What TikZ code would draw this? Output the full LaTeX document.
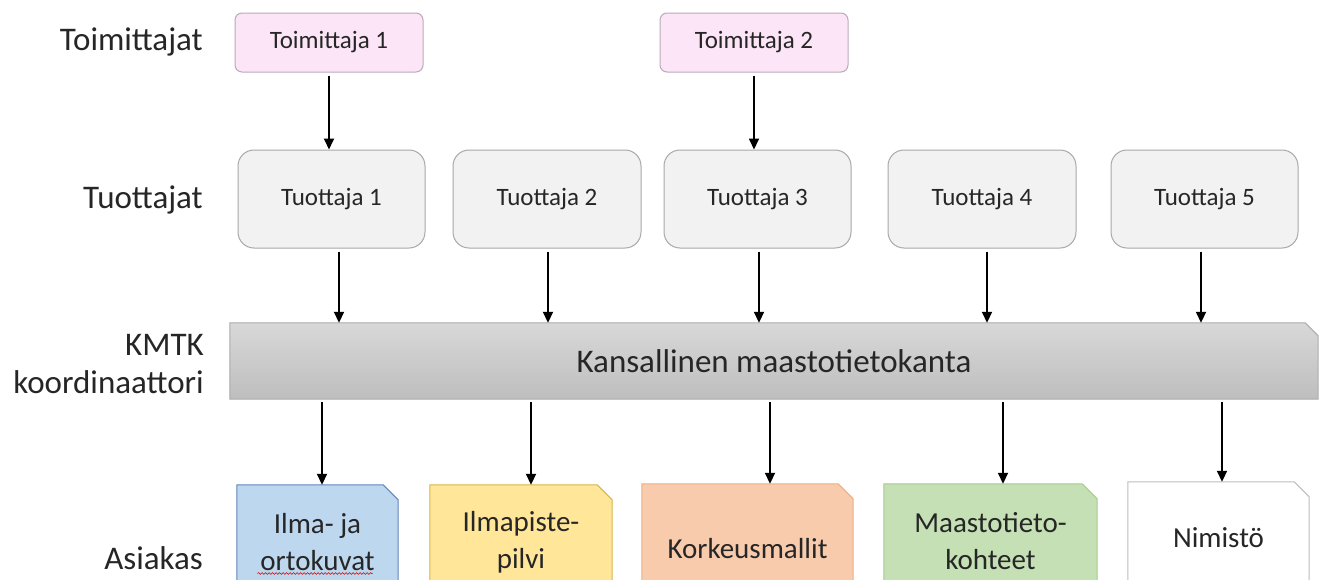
\documentclass[tikz,border=0pt]{standalone}
\usepackage{fontspec}
\setmainfont{Carlito}
\usetikzlibrary{arrows.meta,backgrounds,decorations.pathmorphing}
\definecolor{txt}{HTML}{262626}
\definecolor{supfill}{HTML}{FBE5F6}
\definecolor{supdraw}{HTML}{BBAAB8}
\definecolor{prodfill}{HTML}{F2F2F2}
\definecolor{proddraw}{HTML}{A8A8A8}
\definecolor{bandtop}{HTML}{D8D8D8}
\definecolor{bandbot}{HTML}{BEBEBE}
\definecolor{banddraw}{HTML}{ABABAB}
\definecolor{bluef}{HTML}{BDD7EE}
\definecolor{blued}{HTML}{5F87BD}
\definecolor{yelf}{HTML}{FFE699}
\definecolor{yeld}{HTML}{D8B54A}
\definecolor{oraf}{HTML}{F8CBAD}
\definecolor{orad}{HTML}{F0AE85}
\definecolor{grnf}{HTML}{C5E0B4}
\definecolor{grnd}{HTML}{A6CC8C}
\definecolor{whif}{HTML}{FFFFFF}
\definecolor{whid}{HTML}{BDBDBD}
\tikzset{
  supbox/.style={draw=supdraw, fill=supfill, rounded corners=7pt, minimum width=188pt,
    minimum height=59pt, inner sep=0pt, line width=1pt, text=txt,
    font=\fontsize{25}{30}\selectfont},
  prodbox/.style={draw=proddraw, fill=prodfill, rounded corners=16pt, minimum width=187pt,
    minimum height=98pt, inner sep=0pt, line width=1pt, text=txt,
    font=\fontsize{25}{30}\selectfont},
  custbox/.style={minimum height=115pt, inner sep=0pt, align=center, text=txt,
    font=\fontsize{29}{37}\selectfont},
  lbl/.style={anchor=east, align=right, inner sep=0pt, text=txt,
    font=\fontsize{33}{38}\selectfont},
  arr/.style={line width=1.8pt, shorten <=3pt, -{Triangle[length=11pt,width=10pt]}},
  chamf/.style={line width=1pt}
}
\begin{document}
\begin{tikzpicture}[x=1pt,y=-1pt]
\useasboundingbox (0,0) rectangle (1325,579);

% left labels
\node[lbl] (lsup) at (203,42) {Toimittajat};
\node[lbl] (lprod) at (203,200) {Tuottajat};
\node[lbl] (lkmtk) at (204,364) {KMTK\hspace{8pt}\\koordinaattori};
\node[lbl] (lcust) at (203,558) {Asiakas};

% suppliers
\node[supbox] (s1) at (329,42.5) {Toimittaja 1};
\node[supbox] (s2) at (754,42.5) {Toimittaja 2};

% producers
\node[prodbox] (p1) at (331.5,199) {Tuottaja 1};
\node[prodbox, minimum width=188pt] (p2) at (547,199) {Tuottaja 2};
\node[prodbox] (p3) at (757.5,199) {Tuottaja 3};
\node[prodbox, minimum width=188pt] (p4) at (982,199) {Tuottaja 4};
\node[prodbox] (p5) at (1204.5,199) {Tuottaja 5};

% band
\node[minimum width=1088pt, minimum height=76pt, inner sep=0pt, text=txt,
  font=\fontsize{33}{38}\selectfont] (kmtk) at (774,361) {Kansallinen maastotietokanta};

% customers
\node[custbox, minimum width=161pt] (a1) at (317.5,542.5) {Ilma- ja\\ortokuvat};
\node[custbox, minimum width=182pt] (a2) at (521,542.5) {Ilmapiste-\\pilvi};
\node[custbox, minimum width=211pt, minimum height=130pt] (a3) at (747.5,549) {Korkeusmallit};
\node[custbox, minimum width=213pt] (a4) at (990.5,541.5) {Maastotieto-\\kohteet};
\node[custbox, minimum width=181pt, minimum height=112pt] (a5) at (1218.5,538) {Nimistö};

\begin{scope}[on background layer]
  \fill[white] (0,0) rectangle (1325,579);
  \path[draw=banddraw, line width=1pt, top color=bandtop, bottom color=bandbot]
    (kmtk.south west) -- (kmtk.north west) -- ([xshift=-13pt]kmtk.north east)
    -- ([yshift=-13pt]kmtk.north east) -- (kmtk.south east) -- cycle;
  \foreach \n/\c in {a1/blue,a2/yel,a3/ora,a4/grn,a5/whi}{
    \draw[chamf, draw=\c d, fill=\c f]
      ([yshift=-40pt]\n.south west) -- (\n.north west) -- ([xshift=-15pt]\n.north east)
      -- ([yshift=-15pt]\n.north east) -- ([yshift=-40pt]\n.south east) -- cycle;
  }
\end{scope}

% spell-check underline
\draw[red!80!black, line width=0.6pt, decorate,
  decoration={snake, amplitude=0.9pt, segment length=3.5pt}]
  ([xshift=-60pt,yshift=-31pt]a1.center) -- ([xshift=55pt,yshift=-31pt]a1.center);

% arrows
\draw[arr] (s1.south) -- (s1.south |- p1.north);
\draw[arr] (s2.south) -- (s2.south |- p3.north);

\draw[arr] ([xshift=7.5pt]p1.south) -- ([xshift=7.5pt]p1.south |- kmtk.north);
\draw[arr] ([xshift=1pt]p2.south) -- ([xshift=1pt]p2.south |- kmtk.north);
\draw[arr] ([xshift=1.5pt]p3.south) -- ([xshift=1.5pt]p3.south |- kmtk.north);
\draw[arr] ([xshift=5pt]p4.south) -- ([xshift=5pt]p4.south |- kmtk.north);
\draw[arr] ([xshift=-3.5pt]p5.south) -- ([xshift=-3.5pt]p5.south |- kmtk.north);

\draw[arr] ([xshift=4.5pt]a1.north |- kmtk.south) -- ([xshift=4.5pt]a1.north);
\draw[arr] ([xshift=10pt]a2.north |- kmtk.south) -- ([xshift=10pt]a2.north);
\draw[arr] ([xshift=22.5pt]a3.north |- kmtk.south) -- ([xshift=22.5pt]a3.north);
\draw[arr] ([xshift=12.5pt]a4.north |- kmtk.south) -- ([xshift=12.5pt]a4.north);
\draw[arr] ([xshift=3.5pt]a5.north |- kmtk.south) -- ([xshift=3.5pt]a5.north);
\end{tikzpicture}
\end{document}
